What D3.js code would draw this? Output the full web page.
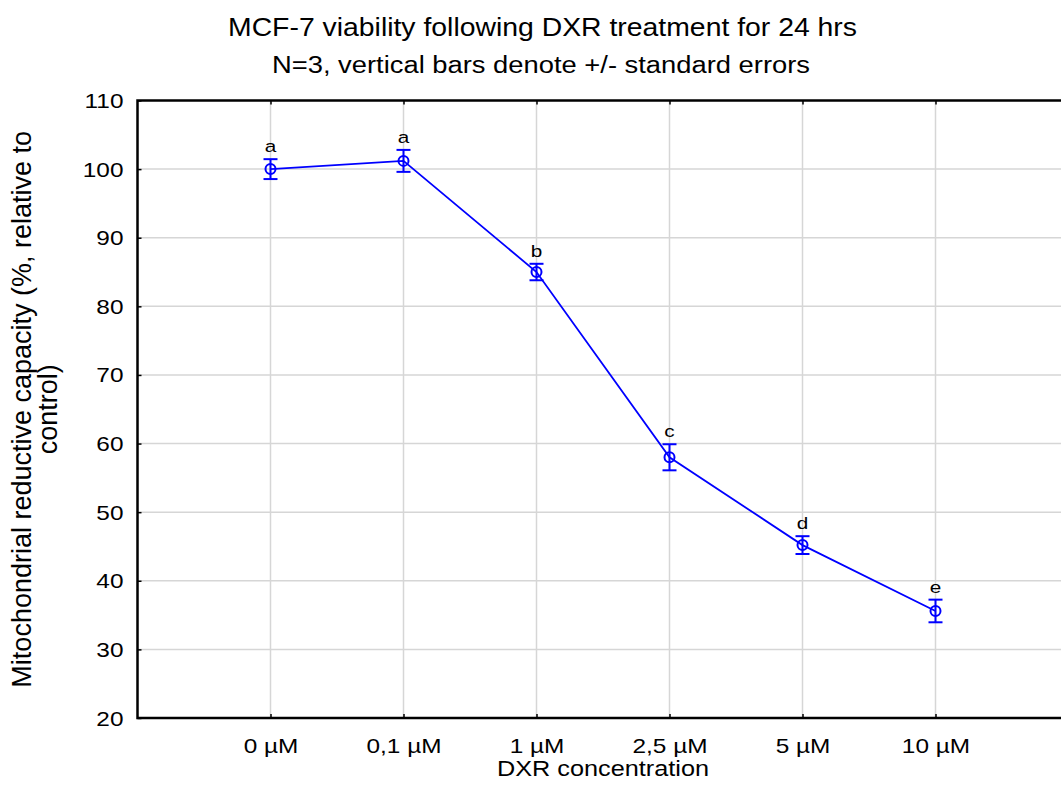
<!DOCTYPE html>
<html>
<head>
<meta charset="utf-8">
<script src="https://cdn.jsdelivr.net/npm/d3@7"></script>
<style>
  body { margin: 0; background: #fff; }
  text { font-family: Arial, "Liberation Sans", sans-serif; fill: #000; }
</style>
</head>
<body>
<svg id="chart" width="1061" height="805"></svg>
<script>
// Data: MCF-7 viability (% of control) after 24 h DXR exposure
const concentrations = ["0 µM", "0,1 µM", "1 µM", "2,5 µM", "5 µM", "10 µM"];
const viability = [100, 101.2, 85, 58, 45.2, 35.6];
const stdErrors = [1.45, 1.6, 1.2, 1.9, 1.3, 1.65];
const groupLetters = ["a", "a", "b", "c", "d", "e"];
const yTicks = [20, 30, 40, 50, 60, 70, 80, 90, 100, 110];

const svg = d3.select("#chart");
const W = 1061;
const plotLeft = 137.5, plotTop = 100.5, plotBottom = 718;
const step = 133;
const FONT = "Arial, 'Liberation Sans', sans-serif";
const SX = 1.22;          // horizontal widening applied to the labels
const TICK_FS = 20;

const x = d3.scalePoint()
  .domain(concentrations)
  .range([plotLeft, plotLeft + step * 7])
  .padding(1);

const y = d3.scaleLinear().domain([20, 110]).range([plotBottom, plotTop]);

const data = concentrations.map((c, i) => ({
  c, v: viability[i], se: stdErrors[i], letter: groupLetters[i]
}));

// Grid
const grid = svg.append("g");
grid.selectAll("line.h").data(yTicks.slice(1, -1)).join("line")
  .attr("class", "h")
  .attr("x1", plotLeft).attr("x2", W)
  .attr("y1", d => y(d)).attr("y2", d => y(d))
  .attr("stroke", "#d6d6d6").attr("stroke-width", 1.5);
grid.selectAll("line.v").data(concentrations).join("line")
  .attr("class", "v")
  .attr("x1", d => x(d)).attr("x2", d => x(d))
  .attr("y1", plotTop).attr("y2", plotBottom)
  .attr("stroke", "#d6d6d6").attr("stroke-width", 1.5);

// Y axis
const gy = svg.append("g").attr("transform", `translate(${plotLeft},0)`)
  .call(d3.axisLeft(y).tickValues(yTicks).tickSize(-4));
gy.attr("font-size", null);
gy.select(".domain").remove();
gy.selectAll(".tick line").attr("stroke", "#000").attr("stroke-width", 1.5);
gy.selectAll(".tick text")
  .attr("x", 0).attr("dy", "0.35em")
  .attr("transform", `translate(-14,0) scale(${SX},1)`)
  .attr("font-size", TICK_FS).attr("font-family", FONT).attr("fill", "#000");

// X axis (bottom) and its inner ticks along the top edge
const gx = svg.append("g").attr("transform", `translate(0,${plotBottom})`)
  .call(d3.axisBottom(x).tickSize(-4));
gx.attr("font-size", null);
gx.select(".domain").remove();
gx.selectAll(".tick line").attr("stroke", "#000").attr("stroke-width", 1.5);
gx.selectAll(".tick text")
  .attr("y", 0).attr("dy", 0)
  .attr("transform", `translate(0,35) scale(${SX},1)`)
  .attr("font-size", TICK_FS).attr("font-family", FONT).attr("fill", "#000");

const gxTop = svg.append("g").attr("transform", `translate(0,${plotTop})`)
  .call(d3.axisTop(x).tickSize(-4).tickFormat(""));
gxTop.select(".domain").remove();
gxTop.selectAll(".tick line").attr("stroke", "#000").attr("stroke-width", 1.5);

// Frame: left, top and bottom edges
svg.append("path")
  .attr("d", `M${W},${plotTop}H${plotLeft}V${plotBottom}H${W}`)
  .attr("fill", "none").attr("stroke", "#000").attr("stroke-width", 2.5);

// Series line
const blue = "#0000ff";
svg.append("path").datum(data)
  .attr("fill", "none").attr("stroke", blue).attr("stroke-width", 1.8)
  .attr("d", d3.line().x(d => x(d.c)).y(d => y(d.v)));

// Error bars
const eb = svg.append("g").attr("stroke", blue).attr("stroke-width", 2);
eb.selectAll("line.stem").data(data).join("line")
  .attr("class", "stem")
  .attr("x1", d => x(d.c)).attr("x2", d => x(d.c))
  .attr("y1", d => y(d.v + d.se)).attr("y2", d => y(d.v - d.se));
eb.selectAll("line.capT").data(data).join("line")
  .attr("class", "capT")
  .attr("x1", d => x(d.c) - 7).attr("x2", d => x(d.c) + 7)
  .attr("y1", d => y(d.v + d.se)).attr("y2", d => y(d.v + d.se));
eb.selectAll("line.capB").data(data).join("line")
  .attr("class", "capB")
  .attr("x1", d => x(d.c) - 7).attr("x2", d => x(d.c) + 7)
  .attr("y1", d => y(d.v - d.se)).attr("y2", d => y(d.v - d.se));

// Markers
svg.append("g").selectAll("circle").data(data).join("circle")
  .attr("cx", d => x(d.c)).attr("cy", d => y(d.v)).attr("r", 5)
  .attr("fill", "none").attr("stroke", blue).attr("stroke-width", 2);

// Group letters above each error bar
svg.append("g").selectAll("text").data(data).join("text")
  .attr("transform", d => `translate(${x(d.c)},${y(d.v + d.se) - 7}) scale(${SX},1)`)
  .attr("text-anchor", "middle").attr("font-size", 17)
  .text(d => d.letter);

// Titles
svg.append("text").attr("x", 228).attr("y", 36)
  .attr("font-size", 25.5).attr("textLength", 629).attr("lengthAdjust", "spacingAndGlyphs")
  .text("MCF-7 viability following DXR treatment for 24 hrs");
svg.append("text").attr("x", 272).attr("y", 73)
  .attr("font-size", 23).attr("textLength", 538).attr("lengthAdjust", "spacingAndGlyphs")
  .text("N=3, vertical bars denote +/- standard errors");

svg.append("text").attr("x", 497).attr("y", 776)
  .attr("font-size", 22).attr("textLength", 212).attr("lengthAdjust", "spacingAndGlyphs")
  .text("DXR concentration");

const yt = svg.append("text")
  .attr("transform", `translate(0,${(plotTop + plotBottom) / 2}) rotate(-90)`)
  .attr("text-anchor", "middle").attr("font-size", 27);
yt.append("tspan").attr("x", 0).attr("y", 31).text("Mitochondrial reductive capacity (%, relative to");
yt.append("tspan").attr("x", 0).attr("y", 57).text("control)");
</script>
</body>
</html>
